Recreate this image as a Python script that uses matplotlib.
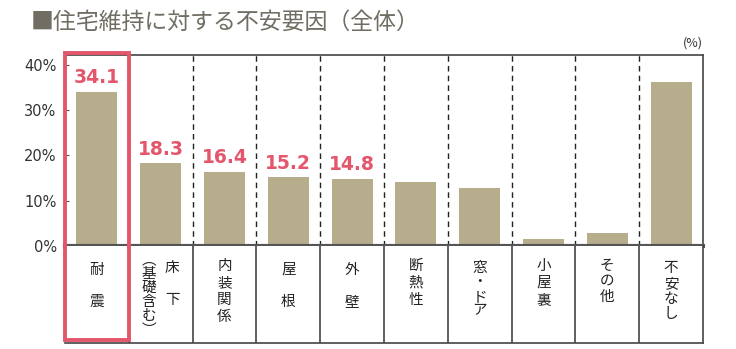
import matplotlib
matplotlib.use("Agg")
import matplotlib.pyplot as plt
from matplotlib.patches import Rectangle
import numpy as np

plt.rcParams['font.family'] = ['Noto Sans CJK JP', 'DejaVu Sans']

# 不安要因 (%)
categories = ["耐震", "床下(基礎含む)", "内装関係", "屋根", "外壁",
              "断熱性", "窓・ドア", "小屋裏", "その他", "不安なし"]
values = [34.1, 18.3, 16.4, 15.2, 14.8, 14.2, 12.8, 1.5, 2.9, 36.3]
labeled = [0, 1, 2, 3, 4]
yticks = [0, 10, 20, 30, 40]

# vertical label stacks: (x offset in category units, chars, y positions in px from top of label box)
label_cols = [
    [(0.0, "耐震", [24, 56])],
    [(0.18, "床下", [22, 54]), (-0.18, "︵基礎含む︶", [14, 28, 42, 56, 70, 84])],
    [(0.0, "内装関係", [20, 37, 54, 71])],
    [(0.0, "屋根", [24, 56])],
    [(0.0, "外壁", [24, 56])],
    [(0.0, "断熱性", [20, 37, 54])],
    [(0.0, "窓・ドア", [22, 36, 51, 64])],
    [(0.0, "小屋裏", [20, 37, 54])],
    [(0.0, "その他", [20, 35, 51])],
    [(0.0, "不安なし", [22, 38, 53, 68])],
]

bar_color = "#b5ad8c"
red = "#e3566b"
frame = "#444444"

W, H = 736, 349
fig = plt.figure(figsize=(W / 100, H / 100), dpi=100)
x0, x1 = 65, 703
ytop, y0, ybot = 55, 246, 343

ax = fig.add_axes([x0 / W, 1 - y0 / H, (x1 - x0) / W, (y0 - ytop) / H])
n = len(categories)
xs = np.arange(n)
ax.bar(xs, values, width=0.64, color=bar_color, zorder=2)
ax.set_xlim(-0.5, n - 0.5)
ax.set_ylim(0, 42.2)
ax.set_yticks(yticks)
ax.set_yticklabels([f"{t}%" for t in yticks], fontsize=10.5, color="#333333",
                   family=['DejaVu Sans'])
ax.tick_params(axis='y', direction='in', length=3, width=0.8, color="#555555", pad=6)
ax.set_xticks([])
for s in ['left', 'top', 'right']:
    ax.spines[s].set_color(frame)
    ax.spines[s].set_linewidth(1.2)
ax.spines['bottom'].set_color("#555555")
ax.spines['bottom'].set_linewidth(3)

for b in np.arange(0.5, n - 1, 1):
    ax.axvline(b, color="#222222", lw=1.0, ls=(0, (4, 3)), zorder=1)

for i in labeled:
    ax.text(xs[i], values[i] + 1.0, f"{values[i]:.1f}", ha='center', va='bottom',
            fontsize=13.5, fontweight='bold', color=red, family=['DejaVu Sans'])

ax.text(1.0, 1.03, "(%)", transform=ax.transAxes, ha='right', va='bottom',
        fontsize=9, color="#333333")

# category label box
lax = fig.add_axes([x0 / W, 1 - ybot / H, (x1 - x0) / W, (ybot - y0) / H])
lax.set_xlim(-0.5, n - 0.5)
lax.set_ylim(ybot - y0, 0)
lax.set_xticks([])
lax.set_yticks([])
for s in ['left', 'top']:
    lax.spines[s].set_visible(False)
for s in ['right', 'bottom']:
    lax.spines[s].set_color(frame)
    lax.spines[s].set_linewidth(1.2)
for b in np.arange(0.5, n - 1, 1):
    lax.axvline(b, color=frame, lw=1.2)

for i, cols in enumerate(label_cols):
    for dx, chars, ys in cols:
        for ch, yy in zip(chars, ys):
            lax.text(i + dx, yy, ch, ha='center', va='center', fontsize=10.5,
                     color="#222222")

# highlight frame around the first category
fig.add_artist(Rectangle((64.5 / W, 1 - 340 / H), 64 / W, (340 - 53) / H,
                         transform=fig.transFigure, fill=False,
                         edgecolor=red, lw=2.8, zorder=10))

fig.text(31 / W, 1 - 22 / H, "■住宅維持に対する不安要因（全体）", ha='left', va='center',
         fontsize=16.5, color="#706d62")

fig.savefig("out.png", dpi=100)
